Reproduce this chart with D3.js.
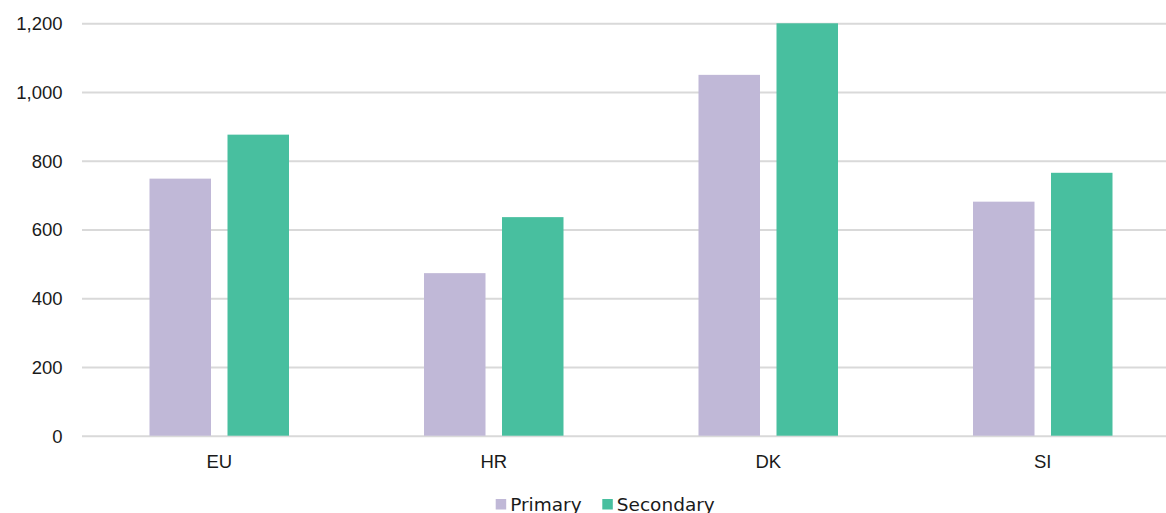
<!DOCTYPE html>
<html>
<head>
<meta charset="utf-8">
<script src="https://cdn.jsdelivr.net/npm/d3@7"></script>
<style>
  html, body { margin: 0; padding: 0; background: #fff; }
  svg { display: block; font-family: "DejaVu Sans", Verdana, sans-serif; }
</style>
</head>
<body>
<svg id="chart" width="1166" height="513"></svg>
<script>
// Country categories and the two series
const categories = ["EU", "HR", "DK", "SI"];
const seriesNames = ["Primary", "Secondary"];
const primary = [748, 473, 1050, 681];
const secondary = [876, 636, 1200, 765];
const yTicks = [0, 200, 400, 600, 800, 1000, 1200];
const colors = ["#c0b8d7", "#48bf9f"];
const fontSize = "18.5px";

const svg = d3.select("#chart");
const plotLeft = 82, plotRight = 1166;
const plotTop = 23.3, plotBottom = 435.7;

const y = d3.scaleLinear().domain([0, 1200]).range([plotBottom, plotTop]);
const x0 = d3.scaleBand().domain(categories).range([plotLeft, plotLeft + 4 * 274.5]).padding(0);
const groupW = 139.5;
const x1 = d3.scaleBand().domain(seriesNames).range([0, groupW]).paddingInner(0.2115).paddingOuter(0);

// Horizontal gridlines and value labels
const yAxis = d3.axisLeft(y).tickValues(yTicks).tickSize(-(plotRight - plotLeft))
  .tickFormat(d3.format(","));
const gy = svg.append("g").attr("transform", `translate(${plotLeft},0)`).call(yAxis);
gy.select(".domain").remove();
gy.selectAll(".tick line").attr("stroke", "#d9d9d9").attr("stroke-width", 2);
gy.selectAll(".tick text").attr("fill", "#1a1a1a").style("font-size", fontSize)
  .attr("x", -19.5).attr("dy", "0.35em");

// Bars
const rows = categories.map((c, i) => ({ cat: c, vals: [primary[i], secondary[i]] }));
const groups = svg.append("g").selectAll("g").data(rows).join("g")
  .attr("transform", d => `translate(${x0(d.cat) + x0.bandwidth() / 2 - groupW / 2},0)`);
groups.selectAll("rect").data(d => d.vals.map((v, j) => ({ s: seriesNames[j], v, j })))
  .join("rect")
  .attr("x", d => x1(d.s))
  .attr("width", x1.bandwidth())
  .attr("y", d => y(d.v))
  .attr("height", d => y(0) - y(d.v))
  .attr("fill", d => colors[d.j]);

// Category labels
const xAxis = d3.axisBottom(x0).tickSize(0).tickPadding(19);
const gx = svg.append("g").attr("transform", `translate(0,${plotBottom})`).call(xAxis);
gx.select(".domain").remove();
gx.selectAll(".tick text").attr("fill", "#1a1a1a").style("font-size", fontSize);

// Legend
const legend = svg.append("g");
const legItems = [{ name: "Primary", x: 495.7 }, { name: "Secondary", x: 602.3 }];
legItems.forEach((it, i) => {
  legend.append("rect").attr("x", it.x).attr("y", 499).attr("width", 10.5).attr("height", 10.5)
    .attr("fill", colors[i]);
  legend.append("text").attr("x", it.x + 14.5).attr("y", 511).attr("fill", "#1a1a1a")
    .style("font-size", fontSize).text(it.name);
});
</script>
</body>
</html>
